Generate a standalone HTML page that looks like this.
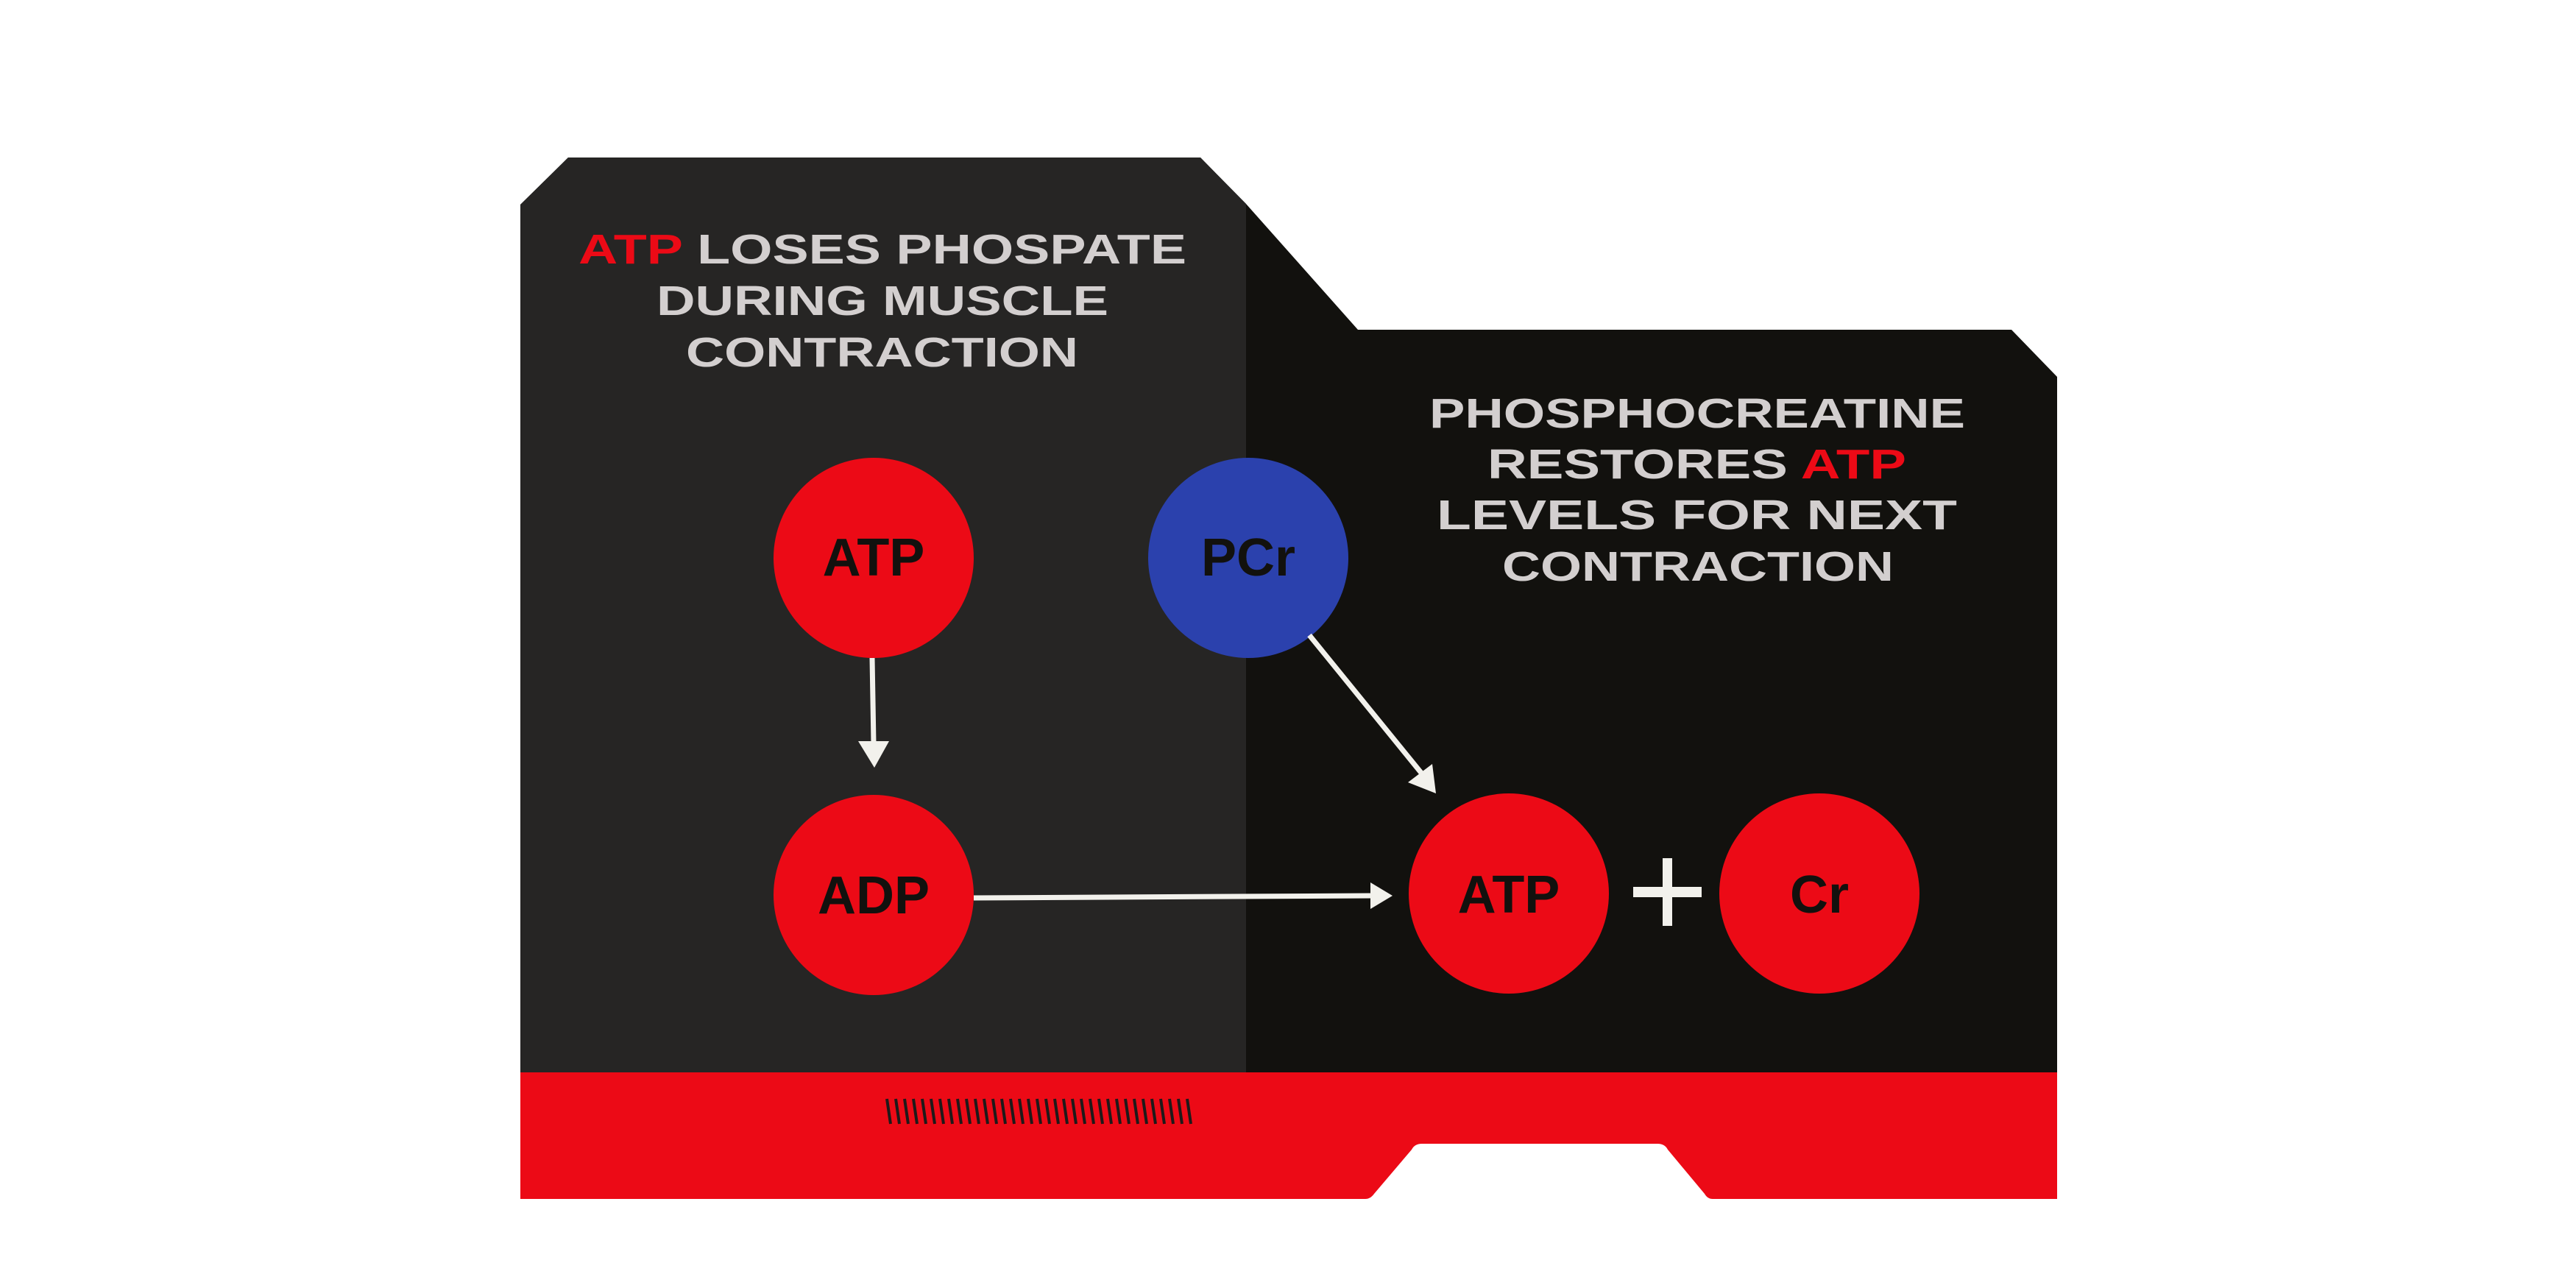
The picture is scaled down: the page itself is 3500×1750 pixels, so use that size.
<!DOCTYPE html>
<html><head><meta charset="utf-8"><style>
html,body{margin:0;padding:0;background:#fff;}
svg{display:block;}
.h{font-family:"Liberation Sans",sans-serif;font-size:57px;font-weight:bold;fill:#d3cfcf;}
.r{fill:#ec0a16;}
.c{font-family:"Liberation Sans",sans-serif;font-weight:bold;font-size:72px;fill:#12110e;}
</style></head><body>
<svg width="3500" height="1750" viewBox="0 0 3500 1750" xmlns="http://www.w3.org/2000/svg">
<defs>
<clipPath id="shape"><polygon points="707,278 772,214 1631,214 1693,277 1845,448 2733,448 2795,512 2795,1460 707,1460"/></clipPath>
</defs>
<g clip-path="url(#shape)">
<rect x="0" y="0" width="3500" height="1750" fill="#12110e"/>
<rect x="700" y="0" width="993" height="1750" fill="#262524"/>
</g>
<path d="M707,1457 L2795,1457 L2795,1629 L2327,1629 Q2320,1629 2316,1622 L2266,1562 Q2262,1554 2252,1554 L1932,1554 Q1922,1554 1918,1562 L1867,1622 Q1862,1629 1855,1629 L707,1629 Z" fill="#ec0a16"/>
<g stroke="#1e1a1a" stroke-width="4">
<path d="M1205,1493 l5,34 M1217,1493 l5,34 M1229,1493 l5,34 M1241,1493 l5,34 M1253,1493 l5,34 M1265,1493 l5,34 M1277,1493 l5,34 M1289,1493 l5,34 M1301,1493 l5,34 M1313,1493 l5,34 M1325,1493 l5,34 M1337,1493 l5,34 M1349,1493 l5,34 M1361,1493 l5,34 M1373,1493 l5,34 M1385,1493 l5,34 M1397,1493 l5,34 M1409,1493 l5,34 M1421,1493 l5,34 M1433,1493 l5,34 M1445,1493 l5,34 M1457,1493 l5,34 M1469,1493 l5,34 M1481,1493 l5,34 M1493,1493 l5,34 M1505,1493 l5,34 M1517,1493 l5,34 M1529,1493 l5,34 M1541,1493 l5,34 M1553,1493 l5,34 M1565,1493 l5,34 M1577,1493 l5,34 M1589,1493 l5,34 M1601,1493 l5,34 M1613,1493 l5,34"/>
</g>
<text class="h" x="786" y="358" textLength="826" lengthAdjust="spacingAndGlyphs"><tspan class="r">ATP</tspan> LOSES PHOSPATE</text>
<text class="h" x="892" y="428" textLength="614" lengthAdjust="spacingAndGlyphs">DURING MUSCLE</text>
<text class="h" x="932" y="498" textLength="533" lengthAdjust="spacingAndGlyphs">CONTRACTION</text>
<text class="h" x="1942" y="581" textLength="728" lengthAdjust="spacingAndGlyphs">PHOSPHOCREATINE</text>
<text class="h" x="2021" y="650" textLength="569" lengthAdjust="spacingAndGlyphs">RESTORES <tspan class="r">ATP</tspan></text>
<text class="h" x="1952" y="719" textLength="707" lengthAdjust="spacingAndGlyphs">LEVELS FOR NEXT</text>
<text class="h" x="2041" y="789" textLength="532" lengthAdjust="spacingAndGlyphs">CONTRACTION</text>
<circle cx="1187" cy="758" r="136" fill="#ec0a16"/>
<circle cx="1696" cy="758" r="136" fill="#2b41ad"/>
<circle cx="1187" cy="1216" r="136" fill="#ec0a16"/>
<circle cx="2050" cy="1214" r="136" fill="#ec0a16"/>
<circle cx="2472" cy="1214" r="136" fill="#ec0a16"/>
<text class="c" x="1187" y="782" text-anchor="middle">ATP</text>
<text class="c" x="1696" y="782" text-anchor="middle">PCr</text>
<text class="c" x="1187" y="1241" text-anchor="middle">ADP</text>
<text class="c" x="2050" y="1240" text-anchor="middle">ATP</text>
<text class="c" x="2472" y="1240" text-anchor="middle">Cr</text>
<g fill="#f2f1ec" stroke="none">
<rect x="2219" y="1205" width="93" height="14"/>
<rect x="2259" y="1166" width="13" height="92"/>
</g>
<g stroke="#f2f1ec" stroke-width="7" fill="none">
<line x1="1185" y1="894" x2="1187" y2="1010"/>
<line x1="1779" y1="863" x2="1935" y2="1055"/>
<line x1="1323" y1="1220" x2="1862" y2="1217"/>
</g>
<g fill="#f2f1ec">
<polygon points="1166,1007 1208,1007 1188,1043"/>
<polygon points="1913,1063 1946,1038 1951,1078"/>
<polygon points="1862,1199 1892,1217 1862,1235"/>
</g>
</svg>
</body></html>
